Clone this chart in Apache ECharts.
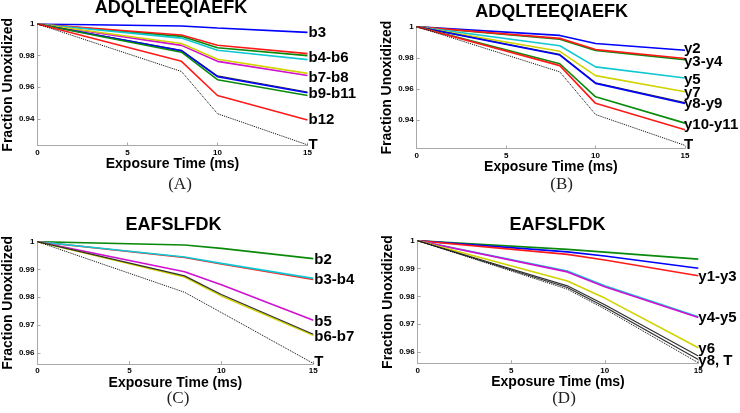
<!DOCTYPE html>
<html><head><meta charset="utf-8">
<script src="https://cdn.jsdelivr.net/npm/echarts@6/dist/echarts.min.js"></script>
<style>html,body{margin:0;padding:0;background:#fff}#c{width:740px;height:413px}</style>
</head><body><div id="c"></div>
<script>
// ---------- data ----------
const xValues = [0, 8, 10, 15];
const xTicks = [0, 5, 10, 15];
const xAxisTitle = 'Exposure Time (ms)';
const yAxisTitle = 'Fraction Unoxidized';

// Panel A  (ADQLTEEQIAEFK, b ions)
const titleA = 'ADQLTEEQIAEFK';
const A_b3  = [1, 0.9987, 0.9975, 0.9947];
const A_b4  = [1, 0.9922, 0.9850, 0.9800];
const A_b5  = [1, 0.9930, 0.9866, 0.9813];
const A_b6  = [1, 0.9911, 0.9834, 0.9775];
const A_b7  = [1, 0.9865, 0.9764, 0.9674];
const A_b8  = [1, 0.9877, 0.9777, 0.9688];
const A_b9  = [1, 0.9834, 0.9672, 0.9570];
const A_b10 = [1, 0.9830, 0.9667, 0.9565];
const A_b11 = [1, 0.9822, 0.9648, 0.9548];
const A_b12 = [1, 0.9764, 0.9548, 0.9393];
const A_T   = [1, 0.9700, 0.9433, 0.9236];
const A_yTicks = [0.94, 0.96, 0.98, 1];
const A_yMin = 0.9232;
const A_labelText = ['b3', 'b4-b6', 'b7-b8', 'b9-b11', 'b12', 'T'];
const A_labelY    = [0.9947, 0.9783, 0.9661, 0.9559, 0.9395, 0.9238];

// Panel B  (ADQLTEEQIAEFK, y ions)
const titleB = 'ADQLTEEQIAEFK';
const B_y2  = [1, 0.9944, 0.9892, 0.9849];
const B_y3  = [1, 0.9920, 0.9848, 0.9788];
const B_y4  = [1, 0.9925, 0.9853, 0.9796];
const B_y5  = [1, 0.9878, 0.9742, 0.9671];
const B_y7  = [1, 0.9842, 0.9686, 0.9582];
const B_y8  = [1, 0.9822, 0.9640, 0.9512];
const B_y9  = [1, 0.9818, 0.9636, 0.9507];
const B_y10 = [1, 0.9762, 0.9550, 0.9381];
const B_y11 = [1, 0.9750, 0.9508, 0.9338];
const B_T   = [1, 0.9710, 0.9436, 0.9238];
const B_yTicks = [0.94, 0.96, 0.98, 1];
const B_yMin = 0.9218;
const B_labelText = ['y2', 'y3-y4', 'y5', 'y7', 'y8-y9', 'y10-y11', 'T'];
const B_labelY    = [0.9855, 0.9773, 0.9658, 0.9573, 0.9503, 0.9370, 0.9240];

// Panel C  (EAFSLFDK, b ions)
const titleC = 'EAFSLFDK';
const C_b2 = [1, 0.9988, 0.9976, 0.9939];
const C_b3 = [1, 0.9943, 0.9920, 0.9864];
const C_b4 = [1, 0.9945, 0.9922, 0.9868];
const C_b5 = [1, 0.9892, 0.9845, 0.9717];
const C_b6 = [1, 0.9873, 0.9805, 0.9663];
const C_b7 = [1, 0.9877, 0.9810, 0.9667];
const C_T  = [1, 0.9818, 0.9745, 0.9562];
const C_yTicks = [0.96, 0.97, 0.98, 0.99, 1];
const C_yMin = 0.9560;
const C_labelText = ['b2', 'b3-b4', 'b5', 'b6-b7', 'T'];
const C_labelY    = [0.9934, 0.9863, 0.9713, 0.9657, 0.9566];

// Panel D  (EAFSLFDK, y ions)
const titleD = 'EAFSLFDK';
const D_y1 = [1, 0.9969, 0.9959, 0.9934];
const D_y2 = [1, 0.9960, 0.9945, 0.9901];
const D_y3 = [1, 0.9951, 0.9931, 0.9874];
const D_y4 = [1, 0.9891, 0.9838, 0.9727];
const D_y5 = [1, 0.9888, 0.9835, 0.9724];
const D_y6 = [1, 0.9855, 0.9794, 0.9616];
const D_y7 = [1, 0.9838, 0.9770, 0.9586];
const D_y8 = [1, 0.9832, 0.9762, 0.9574];
const D_T  = [1, 0.9826, 0.9755, 0.9562];
const D_yTicks = [0.96, 0.97, 0.98, 0.99, 1];
const D_yMin = 0.9560;
const D_labelText = ['y1-y3', 'y4-y5', 'y6', 'y8, T'];
const D_labelY    = [0.9869, 0.9723, 0.9613, 0.9569];

const subLabels = ['(A)', '(B)', '(C)', '(D)'];

// ---------- styles ----------
const COL = {b:'#0000ff', g:'#0a8a0a', r:'#ff1a1a', c:'#10c8d2', m:'#d010d0', y:'#d2d200', k:'#303030', T:'#000000'};
const SANS = '"Liberation Sans", Arial, sans-serif';

const panels = [
  {title:titleA, tx:171, ty:8.5, grid:{left:33.5, top:24, width:274, height:121.5},
   yTicks:A_yTicks, yMin:A_yMin, labelText:A_labelText, labelY:A_labelY, labelDx:0,
   sub:subLabels[0], sx:180, sy:185,
   series:[['b3',A_b3,'b'],['b4',A_b4,'g'],['b5',A_b5,'r'],['b6',A_b6,'c'],['b7',A_b7,'m'],['b8',A_b8,'y'],
           ['b9',A_b9,'k'],['b10',A_b10,'b'],['b11',A_b11,'g'],['b12',A_b12,'r'],['T',A_T,'T']]},
  {title:titleB, tx:551.7, ty:11.7, grid:{left:416.7, top:26.7, width:268.3, height:121.8},
   yTicks:B_yTicks, yMin:B_yMin, labelText:B_labelText, labelY:B_labelY, labelDx:-2,
   sub:subLabels[1], sx:561.7, sy:185,
   series:[['y2',B_y2,'b'],['y3',B_y3,'g'],['y4',B_y4,'r'],['y5',B_y5,'c'],['y7',B_y7,'y'],
           ['y8',B_y8,'k'],['y9',B_y9,'b'],['y10',B_y10,'g'],['y11',B_y11,'r'],['T',B_T,'T']]},
  {title:titleC, tx:173.5, ty:225, grid:{left:34.3, top:241.7, width:279, height:122.3},
   yTicks:C_yTicks, yMin:C_yMin, labelText:C_labelText, labelY:C_labelY, labelDx:0,
   sub:subLabels[2], sx:178, sy:399,
   series:[['b2',C_b2,'g'],['b3',C_b3,'r'],['b4',C_b4,'c'],['b5',C_b5,'m'],['b6',C_b6,'y'],['b7',C_b7,'k'],['T',C_T,'T']]},
  {title:titleD, tx:557.5, ty:225, grid:{left:417.7, top:240.7, width:280.6, height:122.6},
   yTicks:D_yTicks, yMin:D_yMin, labelText:D_labelText, labelY:D_labelY, labelDx:-1,
   sub:subLabels[3], sx:564, sy:399,
   series:[['y1',D_y1,'g'],['y2',D_y2,'b'],['y3',D_y3,'r'],['y4',D_y4,'c'],['y5',D_y5,'m'],['y6',D_y6,'y'],
           ['y7',D_y7,'k'],['y8',D_y8,'k'],['T',D_T,'T']]}
];

function fmt(v){ return String(parseFloat(v.toFixed(4))); }

const grid = [], xAxis = [], yAxis = [], series = [], graphic = [];
panels.forEach((p, i) => {
  grid.push(Object.assign({containLabel:false}, p.grid));
  xAxis.push({
    type:'value', gridIndex:i, min:0, max:15, interval:5,
    name:xAxisTitle, nameLocation:'middle', nameGap:10,
    nameTextStyle:{fontFamily:SANS, fontWeight:'bold', fontSize:14, color:'#000', verticalAlign:'top'},
    axisLine:{show:true, onZero:false, lineStyle:{color:'#a8a8a8', width:1}},
    axisTick:{show:true, inside:true, length:3, lineStyle:{color:'#a8a8a8'}},
    axisLabel:{show:true, margin:3, fontFamily:SANS, fontWeight:'bold', fontSize:8, color:'#000',
               formatter:v=>fmt(v)},
    splitLine:{show:false}
  });
  yAxis.push({
    type:'value', gridIndex:i, min:p.yMin, max:1,
    name:yAxisTitle, nameLocation:'middle', nameGap:20, nameRotate:90,
    nameTextStyle:{fontFamily:SANS, fontWeight:'bold', fontSize:14, color:'#000'},
    axisLine:{show:true, onZero:false, lineStyle:{color:'#a8a8a8', width:1}},
    axisTick:{show:true, inside:true, length:3, customValues:p.yTicks, lineStyle:{color:'#a8a8a8'}},
    axisLabel:{show:true, margin:3, customValues:p.yTicks, fontFamily:SANS, fontWeight:'bold', fontSize:8, color:'#000',
               formatter:v=>fmt(v)},
    splitLine:{show:false}
  });
  p.series.forEach(([name, vals, ck]) => {
    const isT = ck === 'T';
    series.push({
      type:'line', name:name, xAxisIndex:i, yAxisIndex:i,
      data:xValues.map((x, j) => [x, vals[j]]),
      symbol:'none', showSymbol:false, silent:true, animation:false,
      lineStyle:{color:COL[ck], width:isT ? 1 : (ck==='k' ? 1.2 : 1.6), type:isT ? 'dotted' : 'solid'}
    });
  });
  series.push({
    type:'scatter', xAxisIndex:i, yAxisIndex:i, silent:true, animation:false,
    data:p.labelText.map((t, j) => [15, p.labelY[j], t]),
    symbolSize:0, itemStyle:{color:'#000', opacity:1}, clip:false, z:10,
    label:{show:true, position:'right', distance:1, offset:[p.labelDx, 0], formatter:q => q.data[2],
           fontFamily:SANS, fontWeight:'bold', fontSize:15, color:'#000', opacity:1,
           textBorderWidth:0}
  });
  graphic.push({type:'text', x:p.tx, y:p.ty, silent:true,
    style:{text:p.title, fontFamily:SANS, fontWeight:'bold', fontSize:18, fill:'#000', align:'center', verticalAlign:'middle'}});
  graphic.push({type:'text', x:p.sx, y:p.sy, silent:true,
    style:{text:p.sub, fontFamily:'"Liberation Serif", "DejaVu Serif", serif', fontSize:17, fill:'#222', align:'center', verticalAlign:'middle'}});
});

const chart = echarts.init(document.getElementById('c'), null, {renderer:'canvas'});
chart.setOption({backgroundColor:'#fff', animation:false, grid, xAxis, yAxis, series, graphic});
</script></body></html>
